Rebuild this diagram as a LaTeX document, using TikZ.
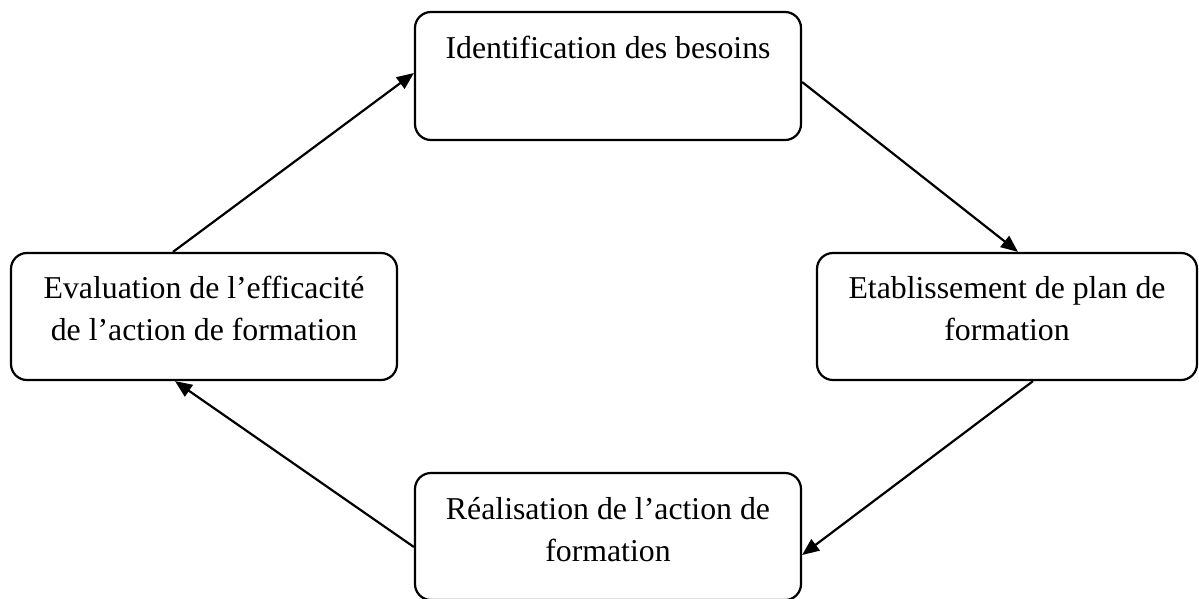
\documentclass[tikz,border=0pt]{standalone}
\usepackage{fontspec}
\setmainfont{Liberation Serif}
\usetikzlibrary{arrows.meta}
\tikzset{
  box/.style={draw, line width=2.2pt, rounded corners=16pt, inner sep=0pt},
  lbl/.style={anchor=north, align=center, inner sep=0pt, font=\fontsize{31.8}{42}\selectfont},
  arr/.style={line width=2.2pt, -{Triangle[length=17pt,width=14pt]}}
}
\begin{document}
\begin{tikzpicture}[x=1pt,y=-1pt]
\useasboundingbox (0,0) rectangle (1199,598);
\node[box, minimum width=386pt, minimum height=128pt] (top) at (608,76) {};
\node[box, minimum width=380pt, minimum height=127pt] (right) at (1007,316.5) {};
\node[box, minimum width=386pt, minimum height=127pt] (bottom) at (608,536.5) {};
\node[box, minimum width=386pt, minimum height=127pt] (left) at (204,316.5) {};
\node[lbl] (ttop) at (608,36) {Identification des besoins};
\node[lbl] (tright) at (1007,276) {Etablissement de plan de\\formation};
\node[lbl] (tbottom) at (608,497) {Réalisation de l’action de\\formation};
\node[lbl] (tleft) at (204,276) {Evaluation de l’efficacité\\de l’action de formation};
\draw[arr] ([xshift=-31pt]left.north) -- ([yshift=3pt]top.west);
\draw[arr] ([yshift=-6pt]top.east) -- ([xshift=11pt]right.north);
\draw[arr] ([xshift=26pt]right.south) -- ([yshift=-18.5pt]bottom.east);
\draw[arr] ([yshift=-10.5pt]bottom.west) -- ([xshift=-29pt]left.south);
\end{tikzpicture}
\end{document}
